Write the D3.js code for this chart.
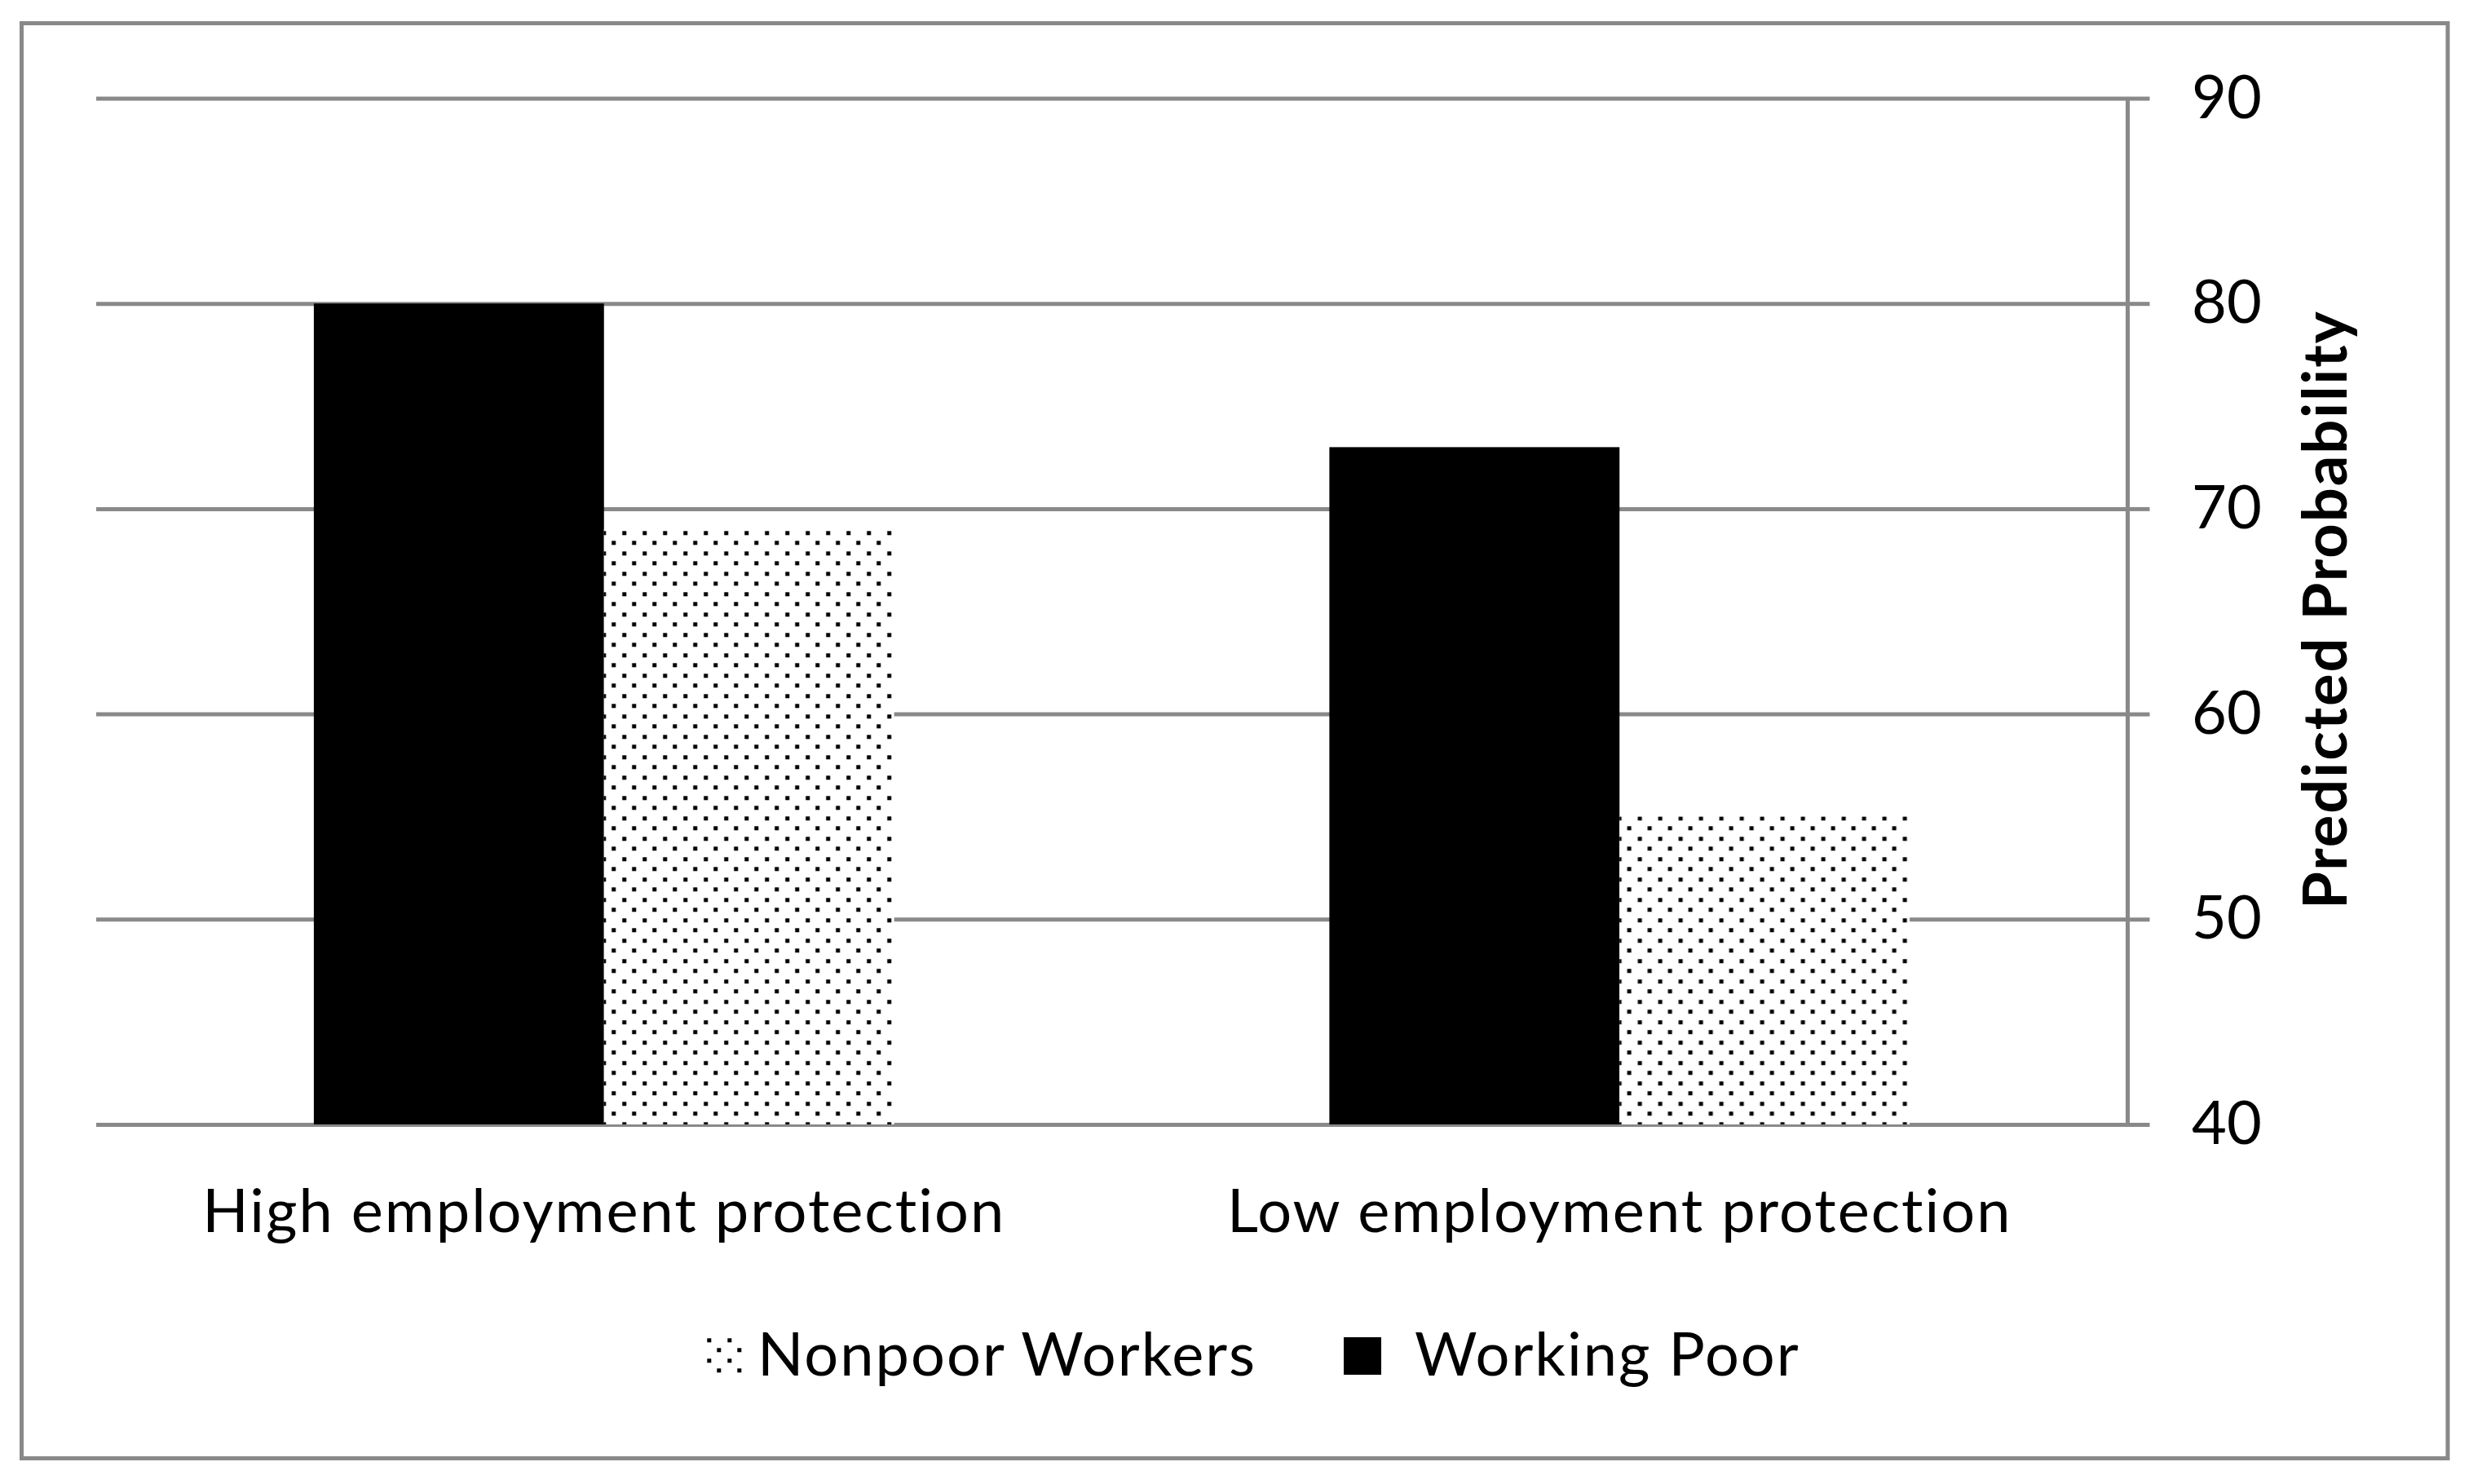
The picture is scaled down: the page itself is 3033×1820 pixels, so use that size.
<!DOCTYPE html>
<html>
<head>
<meta charset="utf-8">
<script src="https://cdn.jsdelivr.net/npm/d3@7"></script>
<style>
  html, body { margin: 0; padding: 0; background: #ffffff; }
  svg { display: block; }
  text { font-family: Lato, "Open Sans", sans-serif; fill: #000; font-variant-ligatures: none; }
</style>
</head>
<body>
<svg id="chart" width="3033" height="1820"></svg>
<script>
// ---- data ----
const categories = ["High employment protection", "Low employment protection"];
const seriesNames = ["Working Poor", "Nonpoor Workers"];
const workingPoor = [80, 73];
const nonpoorWorkers = [69, 55];
const yTicks = [40, 50, 60, 70, 80, 90];
const legendOrder = ["Nonpoor Workers", "Working Poor"];
const yTitle = "Predicted Probability";

// ---- layout ----
const W = 3033, H = 1820;
const plotLeft = 118, plotRight = 2609, plotTop = 120.5, plotBottom = 1379;
const gridColor = "#898989";
const fontSize = 74;
const spacing = 2;

const svg = d3.select("#chart");
svg.append("rect").attr("width", W).attr("height", H).attr("fill", "#fff");

// pattern for nonpoor workers
const defs = svg.append("defs");
const pat = defs.append("pattern")
  .attr("id", "dots").attr("patternUnits", "userSpaceOnUse")
  .attr("width", 25).attr("height", 25);
pat.append("rect").attr("width", 25).attr("height", 25).attr("fill", "#fff");
pat.append("rect").attr("x", 3.3).attr("y", 1.3).attr("width", 5).attr("height", 5).attr("fill", "#000");
pat.append("rect").attr("x", 15.3).attr("y", 13.3).attr("width", 5).attr("height", 5).attr("fill", "#000");

const fills = { "Working Poor": "#000", "Nonpoor Workers": "url(#dots)" };

// outer border
svg.append("rect")
  .attr("x", 26.5).attr("y", 28.5)
  .attr("width", 3002 - 26.5).attr("height", 1788.5 - 28.5)
  .attr("fill", "none").attr("stroke", gridColor).attr("stroke-width", 5);

// scales
const x0 = d3.scaleBand().domain(categories).range([plotLeft, plotRight])
  .paddingInner(1.5 / 3.5).paddingOuter(1.5 / 7);
const x1 = d3.scaleBand().domain(seriesNames).range([0, x0.bandwidth()]);
const y = d3.scaleLinear().domain([40, 90]).range([plotBottom, plotTop]);

// gridlines
svg.append("g").attr("transform", `translate(${plotRight},0)`)
  .call(d3.axisLeft(y).tickValues(yTicks).tickSize(plotRight - plotLeft).tickFormat(""))
  .call(g => g.select(".domain").remove())
  .call(g => g.selectAll("line").attr("stroke", gridColor).attr("stroke-width", 5));

// bars
const rows = categories.map((c, i) => ({ cat: c, values: [
  { key: "Working Poor", value: workingPoor[i] },
  { key: "Nonpoor Workers", value: nonpoorWorkers[i] }
]}));

svg.append("g").selectAll("g").data(rows).join("g")
  .attr("transform", d => `translate(${x0(d.cat)},0)`)
  .selectAll("rect").data(d => d.values).join("rect")
  .attr("x", d => x1(d.key))
  .attr("width", x1.bandwidth())
  .attr("y", d => y(d.value))
  .attr("height", d => y(40) - y(d.value))
  .attr("fill", d => fills[d.key]);

// right y-axis
const yAxis = svg.append("g").attr("transform", `translate(${plotRight},0)`)
  .call(d3.axisRight(y).tickValues(yTicks).tickSizeInner(27.5).tickSizeOuter(0).tickPadding(51.5));
yAxis.select(".domain").attr("stroke", gridColor).attr("stroke-width", 5);
yAxis.selectAll(".tick line").attr("stroke", gridColor).attr("stroke-width", 5);
yAxis.selectAll(".tick text")
  .attr("font-family", "Lato, 'Open Sans', sans-serif")
  .attr("font-size", fontSize).attr("fill", "#000").attr("dy", 0).attr("y", 23.5);

// bottom category axis
const xAxis = svg.append("g").attr("transform", `translate(0,${plotBottom})`)
  .call(d3.axisBottom(x0).tickSize(0));
xAxis.select(".domain").remove();
xAxis.selectAll(".tick text")
  .attr("font-family", "Lato, 'Open Sans', sans-serif")
  .attr("font-size", fontSize).attr("fill", "#000")
  .attr("letter-spacing", spacing)
  .attr("dy", 0).attr("y", 1511 - plotBottom);

// y title
svg.append("text")
  .attr("transform", `translate(2878,747.5) rotate(-90)`)
  .attr("text-anchor", "middle")
  .attr("font-size", fontSize).attr("font-weight", "bold")
  .attr("letter-spacing", spacing)
  .text(yTitle);

// legend
const legendX = { "Nonpoor Workers": 864, "Working Poor": 1648 };
const lg = svg.append("g").selectAll("g").data(legendOrder).join("g")
  .attr("transform", d => `translate(${legendX[d]},1640)`);
lg.append("rect").attr("width", 46).attr("height", 46).attr("fill", d => fills[d]);
lg.append("text").attr("x", d => d === "Working Poor" ? 87 : 65).attr("y", 47)
  .attr("font-size", fontSize).attr("letter-spacing", spacing).text(d => d);
</script>
</body>
</html>
